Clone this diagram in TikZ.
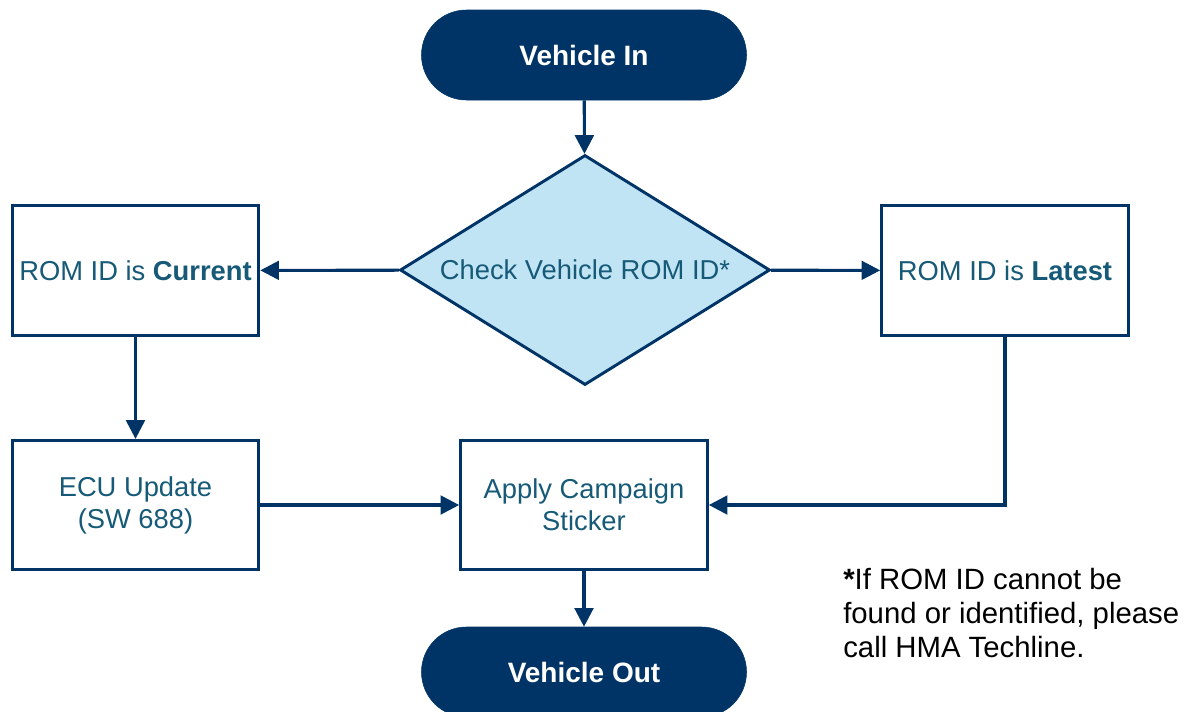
\documentclass[tikz,border=0pt]{standalone}
\usepackage{fontspec}
\setmainfont{Liberation Sans}
\usetikzlibrary{arrows.meta, positioning, shapes.geometric}
\definecolor{hmanavy}{RGB}{0,51,102}
\definecolor{hmateal}{RGB}{22,90,120}
\definecolor{hmasky}{RGB}{192,228,244}

\begin{document}
\begin{tikzpicture}[x=0.75pt, y=-0.75pt, >={Triangle[length=14pt, width=14pt]},
  terminal/.style={draw=hmanavy, fill=hmanavy, rounded corners=33.7pt, minimum width=243.75pt, minimum height=67.5pt, text=white, font=\fontsize{21}{25}\selectfont\bfseries},
  stepbox/.style={draw=hmanavy, line width=2.2pt, fill=white, minimum width=185pt, minimum height=97pt, align=center, text=hmateal, font=\fontsize{20.5}{24}\selectfont},
  flow/.style={->, draw=hmanavy, line width=2.3pt}]
  \useasboundingbox (0,0) rectangle (1189,711);

  % start and end
  \node[terminal] (vin) at (584,55) {Vehicle In};
  \node[terminal] (vout) at (584,672) {Vehicle Out};

  % decision
  \node[diamond, draw=hmanavy, line width=2.2pt, fill=hmasky, minimum width=277.5pt, minimum height=172.5pt, inner sep=0pt] (check) at (585,270) {};
  \node[text=hmateal, font=\fontsize{20.5}{24}\selectfont] (checktxt) at (check) {Check Vehicle ROM ID*};

  % steps
  \node[stepbox] (current) at (135.5,270.5) {ROM ID is \textbf{Current}};
  \node[stepbox] (latest) at (1005,270.5) {ROM ID is \textbf{Latest}};
  \node[stepbox] (ecu) at (135.5,505) {ECU Update\\(SW 688)};
  \node[stepbox] (sticker) at (584,505) {Apply Campaign\\Sticker};

  % connectors
  \draw[flow] (vin) -- (check);
  \draw[flow] (check) -- (current);
  \draw[flow] (check) -- (latest);
  \draw[flow] (current) -- (ecu);
  \draw[flow] (ecu) -- (sticker);
  \draw[flow] (latest.south) |- (sticker.east);
  \draw[flow] (sticker) -- (vout);

  % footnote
  \node[anchor=north west, inner sep=0pt, align=left, font=\fontsize{22}{25.5}\selectfont] (note) at (843,568) {\textbf{*}If ROM ID cannot be\\found or identified, please\\call HMA Techline.};
\end{tikzpicture}
\end{document}
